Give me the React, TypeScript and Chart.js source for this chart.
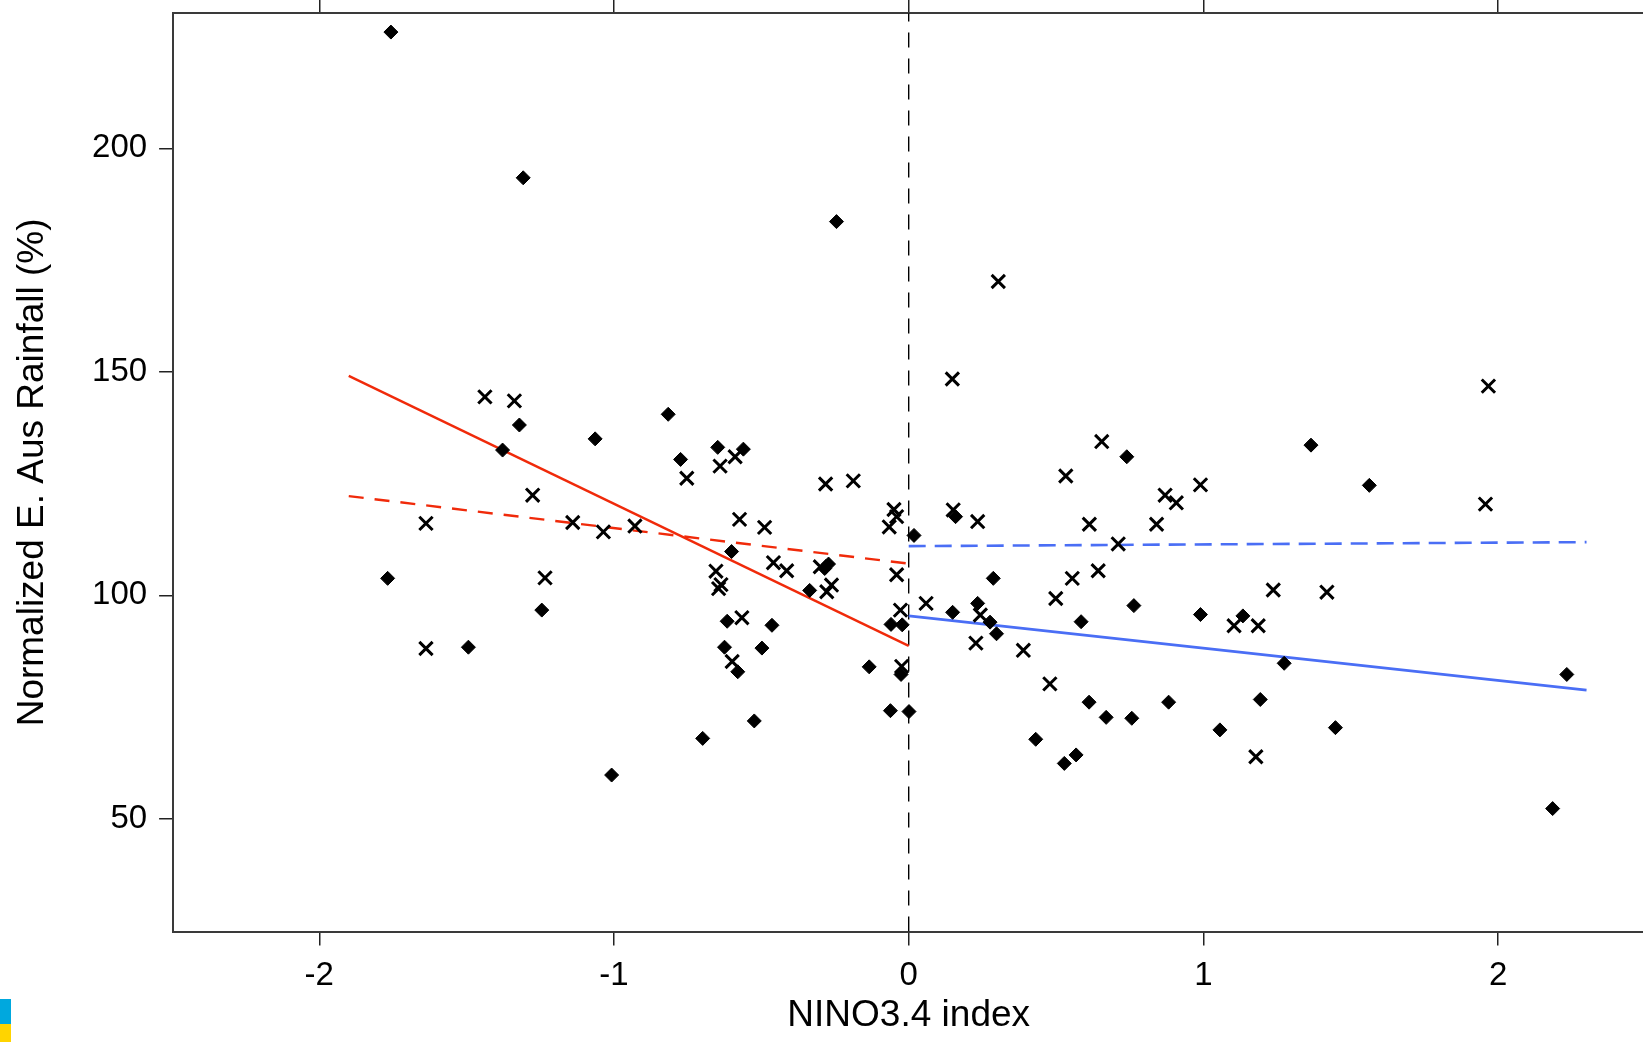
import React, { useEffect, useRef } from "react";
import { Chart, registerables } from "chart.js";

Chart.register(...registerables);

// ---- axes ----
const xTickValues = [-2, -1, 0, 1, 2];
const yTickValues = [50, 100, 150, 200];
const xMin = -2.496;
const xMax = 2.496;
const yMin = 24.8;
const yMax = 230.2;

// ---- filled diamonds ----
const diamondX = [
  -1.757, -1.308, -0.245, -1.321, -1.064, -1.378, -1.768, -1.245, -1.494, -1.008,
  -0.816, -0.648, -0.561, -0.774, 0.018, -0.601, -0.285, -0.272, -0.336, -0.06,
  -0.022, -0.616, -0.464, -0.625, -0.498, -0.58, -0.134, -0.026, -0.062, 0.001,
  -0.524, -0.699,
  0.159, 0.74, 0.287, 0.149, 0.234, 0.276, 0.298, 0.585, 0.764, 0.612,
  0.67, 0.757, 0.431, 0.568, 0.528, 1.365, 1.563, 0.99, 1.134, 1.274,
  2.233, 0.882, 1.193, 1.056, 1.448, 2.185,
];
const diamondY = [
  226.0, 193.4, 183.6, 138.1, 135.0, 132.5, 103.8, 96.7, 88.4, 59.8,
  140.5, 133.1, 132.7, 130.4, 113.4, 109.8, 106.0, 107.0, 101.1, 93.5,
  93.4, 94.2, 93.3, 88.4, 88.2, 82.9, 84.0, 82.3, 74.2, 74.0,
  71.9, 68.0,
  117.6, 131.0, 103.8, 96.2, 98.2, 94.0, 91.4, 94.1, 97.7, 76.1,
  72.7, 72.5, 67.8, 64.3, 62.4, 133.6, 124.6, 95.7, 95.4, 84.8,
  82.3, 76.1, 76.7, 69.9, 70.4, 52.3,
];

// ---- crosses ----
const crossX = [
  -1.438, -1.338, -1.276, -1.638, -1.14, -1.036, -0.929, -1.234, -1.638, -0.64,
  -0.589, -0.753, -0.282, -0.188, -0.05, -0.041, -0.066, -0.574, -0.489, -0.654,
  -0.637, -0.645, -0.459, -0.414, -0.3, -0.262, -0.278, -0.041, -0.028, -0.566,
  -0.599, -0.024,
  0.148, 0.304, 0.151, 0.234, 0.655, 0.533, 0.613, 0.711, 0.555, 0.643,
  0.499, 0.059, 0.243, 0.228, 0.389, 0.479, 1.967, 1.957, 0.99, 0.87,
  0.908, 0.841, 1.104, 1.186, 1.237, 1.419, 1.178,
];
const crossY = [
  144.4, 143.5, 122.4, 116.1, 116.3, 114.2, 115.5, 103.9, 88.1, 128.9,
  131.0, 126.2, 124.9, 125.6, 119.2, 117.6, 115.3, 117.0, 115.2, 105.4,
  102.4, 101.5, 107.3, 105.5, 106.4, 102.3, 100.8, 104.6, 96.7, 95.0,
  85.2, 84.1,
  148.4, 170.2, 119.1, 116.5, 134.4, 126.7, 115.9, 111.5, 103.8, 105.5,
  99.3, 98.2, 95.6, 89.3, 87.7, 80.2, 146.8, 120.4, 124.7, 122.4,
  120.7, 115.9, 93.2, 93.2, 101.2, 100.7, 63.9,
];

// ---- fitted lines ----
const redFitX = [-1.9, 0];
const redSolidY = [149.1, 88.7];
const redDashedY = [122.2, 107.1];
const blueFitX = [0, 2.3];
const blueSolidY = [95.4, 78.8];
const blueDashedY = [111.0, 111.9];
const zeroLineX = [0, 0];
const zeroLineY = [yMin, yMax];

const RED = "#f02a0a";
const BLUE = "#4a6ef5";

const pts = (xs: number[], ys: number[]) => xs.map((x, i) => ({ x, y: ys[i] }));

export default function App() {
  const ref = useRef<HTMLCanvasElement>(null);

  useEffect(() => {
    if (!ref.current) return;
    Chart.defaults.font.family = "'Liberation Sans', Arial, Helvetica, sans-serif";
    const gridOpts = {
      drawOnChartArea: false,
      drawTicks: true,
      tickLength: 14,
      color: "#222",
      lineWidth: 1.5,
    };
    const borderOpts = { display: true, color: "#3a3a3a", width: 2 };
    const setXTicks = (s: any) => {
      s.ticks = xTickValues.map((value) => ({ value }));
    };
    const setYTicks = (s: any) => {
      s.ticks = yTickValues.map((value) => ({ value }));
    };
    const noPad = (s: any) => {
      s.paddingTop = 0;
      s.paddingBottom = 0;
      s.paddingLeft = 0;
      s.paddingRight = 0;
    };

    const chart = new Chart(ref.current, {
      type: "scatter",
      data: {
        datasets: [
          {
            label: "diamonds",
            data: pts(diamondX, diamondY),
            pointStyle: "rectRot",
            pointRadius: 7,
            backgroundColor: "#000",
            borderColor: "#000",
            borderWidth: 1,
            order: 0,
          },
          {
            label: "crosses",
            data: pts(crossX, crossY),
            pointStyle: "crossRot",
            pointRadius: 9.4,
            backgroundColor: "#000",
            borderColor: "#000",
            borderWidth: 3,
            order: 0,
          },
          {
            label: "red solid",
            data: pts(redFitX, redSolidY),
            showLine: true,
            pointRadius: 0,
            borderColor: RED,
            borderWidth: 2.4,
            order: 1,
          },
          {
            label: "red dashed",
            data: pts(redFitX, redDashedY),
            showLine: true,
            pointRadius: 0,
            borderColor: RED,
            borderWidth: 2.4,
            borderDash: [15, 11],
            order: 1,
          },
          {
            label: "blue solid",
            data: pts(blueFitX, blueSolidY),
            showLine: true,
            pointRadius: 0,
            borderColor: BLUE,
            borderWidth: 2.6,
            order: 1,
          },
          {
            label: "blue dashed",
            data: pts(blueFitX, blueDashedY),
            showLine: true,
            pointRadius: 0,
            borderColor: BLUE,
            borderWidth: 2.6,
            borderDash: [17, 9],
            order: 1,
          },
          {
            label: "zero",
            data: pts(zeroLineX, zeroLineY),
            showLine: true,
            pointRadius: 0,
            borderColor: "#000",
            borderWidth: 1.4,
            borderDash: [15, 11],
            order: 2,
          },
        ],
      },
      options: {
        animation: false,
        responsive: false,
        events: [],
        layout: { padding: { left: 0, top: 0, right: 15.7, bottom: 0 } },
        plugins: { legend: { display: false }, tooltip: { enabled: false } },
        scales: {
          x: {
            type: "linear",
            position: "bottom",
            min: xMin,
            max: xMax,
            afterBuildTicks: setXTicks,
            afterFit: (s: any) => {
              s.height = 110.5;
              noPad(s);
            },
            grid: gridOpts,
            border: borderOpts,
            ticks: {
              color: "#000",
              font: { size: 33 },
              padding: 10.5,
              maxRotation: 0,
              autoSkip: false,
              callback: (v: any) => String(v),
            },
            title: {
              display: true,
              text: "NINO3.4 index",
              color: "#000",
              font: { size: 37 },
              padding: { top: 0, bottom: 4 },
            },
          },
          x2: {
            type: "linear",
            position: "top",
            min: xMin,
            max: xMax,
            afterBuildTicks: setXTicks,
            afterFit: (s: any) => {
              s.height = 13.3;
              noPad(s);
            },
            grid: gridOpts,
            border: borderOpts,
            ticks: { display: false },
          },
          y: {
            type: "linear",
            position: "left",
            min: yMin,
            max: yMax,
            afterBuildTicks: setYTicks,
            afterFit: (s: any) => {
              s.width = 173.1;
              noPad(s);
            },
            grid: gridOpts,
            border: borderOpts,
            ticks: {
              color: "#000",
              font: { size: 33 },
              padding: 12,
              callback: (v: any) => String(v),
            },
            title: {
              display: true,
              text: "Normalized E. Aus Rainfall (%)",
              color: "#000",
              font: { size: 37 },
              padding: { top: 10.5, bottom: 0 },
            },
          },
        },
      },
    } as any);
    return () => chart.destroy();
  }, []);

  return (
    <div
      style={{
        position: "fixed",
        left: 0,
        top: 0,
        width: 1643,
        height: 1042,
        overflow: "hidden",
        background: "#fff",
      }}
    >
      <canvas
        ref={ref}
        width={1660}
        height={1042}
        style={{ display: "block", width: 1660, height: 1042 }}
      />
      <div style={{ position: "absolute", left: 0, top: 999, width: 11, height: 25, background: "#00a8de" }} />
      <div style={{ position: "absolute", left: 0, top: 1024, width: 11, height: 18, background: "#ffd400" }} />
    </div>
  );
}
